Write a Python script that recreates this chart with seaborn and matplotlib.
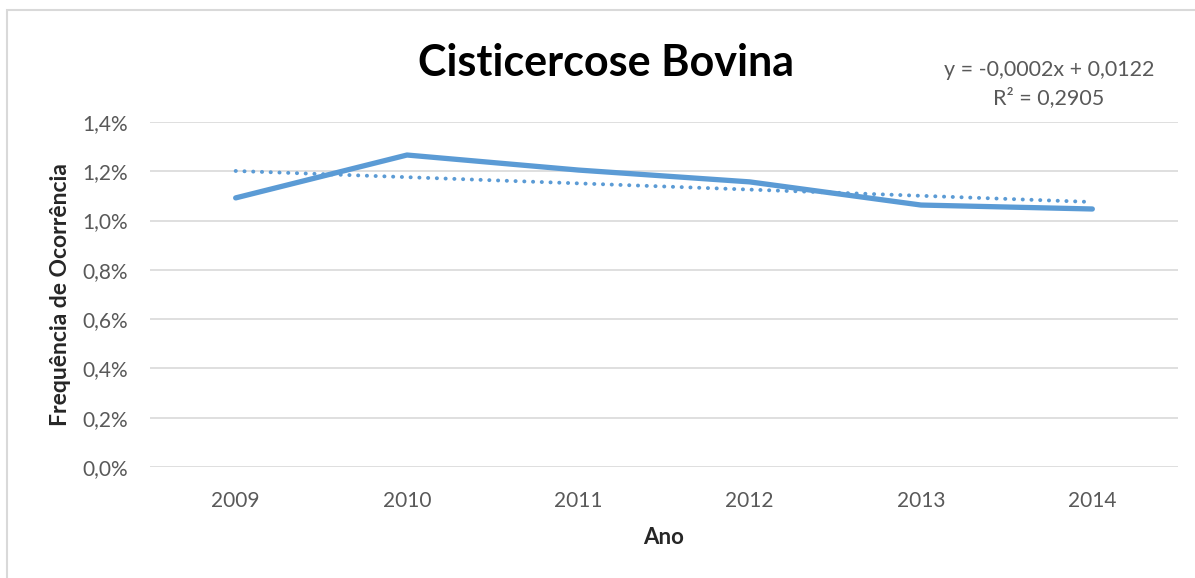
import numpy as np
import pandas as pd
import matplotlib
matplotlib.use("Agg")
import matplotlib.pyplot as plt
import seaborn as sns
from matplotlib.ticker import FuncFormatter
from matplotlib.patches import Rectangle

sns.set_style("white")
plt.rcParams["font.family"] = ["Lato", "DejaVu Sans"]

# dados
anos = ["2009", "2010", "2011", "2012", "2013", "2014"]
frequencia = [0.01092, 0.01266, 0.01205, 0.01157, 0.01063, 0.01047]
equacao = "y = -0,0002x + 0,0122"
r2_texto = "R² = 0,2905"

azul = "#5B9BD5"
cinza = "#595959"

df = pd.DataFrame({"pos": np.arange(len(anos)), "freq": frequencia})

# linha de tendencia (x = 1..6 como no Excel)
coef = np.polyfit(df["pos"] + 1, df["freq"], 1)
df["tend"] = np.polyval(coef, df["pos"] + 1)

fig = plt.figure(figsize=(11.95, 5.78), dpi=100)
ax = fig.add_axes([150/1195, 111/578, 1028/1195, 345/578])

sns.lineplot(x="pos", y="tend", data=df, ax=ax, color=azul, linewidth=2.8,
             linestyle=(0, (0.05, 2.2)), dash_capstyle="round", zorder=3)
sns.lineplot(x="pos", y="freq", data=df, ax=ax, color=azul, linewidth=3.8,
             solid_capstyle="round", zorder=4)

ax.set_xlim(-0.5, len(anos) - 0.5)
ax.set_ylim(0, 0.014)
ax.set_yticks(np.arange(0, 0.0141, 0.002))
ax.yaxis.set_major_formatter(FuncFormatter(lambda v, p: f"{v*100:.1f}%".replace(".", ",")))
ax.set_xticks(df["pos"])
ax.set_xticklabels(anos)
ax.grid(axis="y", color="#D9D9D9", linewidth=1.2)
ax.grid(axis="x", visible=False)
for s in ax.spines.values():
    s.set_visible(False)
ax.tick_params(axis="both", length=0, labelsize=15, labelcolor=cinza)
ax.tick_params(axis="y", pad=16)
ax.tick_params(axis="x", pad=17)

ax.set_xlabel("Ano", fontsize=16, weight="bold", labelpad=12)
ax.set_ylabel("Frequência de Ocorrência", fontsize=16.5, weight="bold", labelpad=8)

fig.text(606/1195, 1 - 63/578, "Cisticercose Bovina", fontsize=31, weight="bold",
         ha="center", va="center", color="black")
fig.text(1049/1195, 1 - 70/578, equacao, fontsize=15.5, color=cinza, ha="center", va="center")
fig.text(1049/1195, 1 - 98/578, r2_texto, fontsize=15.5, color=cinza, ha="center", va="center")

# moldura do grafico
fig.patches.append(Rectangle((7/1195, -0.1), 1.2, 1 - 10/578 + 0.1, transform=fig.transFigure,
                             fill=False, edgecolor="#D9D9D9", linewidth=1.5))

fig.savefig("out.png", dpi=100)
